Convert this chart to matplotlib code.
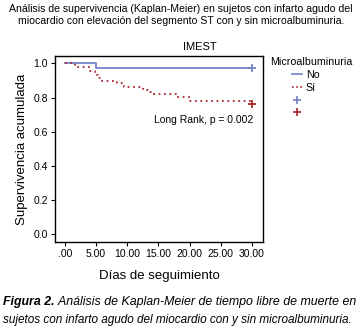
import matplotlib.pyplot as plt
from matplotlib.lines import Line2D
import numpy as np

plt.rcParams['font.family'] = ['Liberation Sans', 'DejaVu Sans']

# Kaplan-Meier steps
no_t = [0, 5.0, 30.0]
no_s = [1.0, 0.975, 0.975]
si_t = [0, 1.6, 4.0, 4.8, 5.3, 5.9, 8.3, 9.5, 12.6, 13.7, 14.1, 18.0, 19.9, 29.9, 30.0]
si_s = [1.0, 0.978, 0.953, 0.930, 0.914, 0.898, 0.885, 0.862, 0.844, 0.832, 0.820, 0.803, 0.781, 0.762, 0.762]
censor_t = [30.0, 30.0]
censor_s = [0.975, 0.762]

xticks = [0, 5, 10, 15, 20, 25, 30]
xtick_labels = ['.00', '5.00', '10.00', '15.00', '20.00', '25.00', '30.00']
yticks = [0.0, 0.2, 0.4, 0.6, 0.8, 1.0]

blue = '#7282c8'
red = '#a8282c'

fig = plt.figure(figsize=(3.62, 3.34), dpi=100)
ax = fig.add_axes([55/362, 1 - 242/334, 208/362, 186/334])

ax.step(no_t, no_s, where='post', color=blue, lw=1.3)
ax.step(si_t, si_s, where='post', color=red, lw=1.3, linestyle=(0, (1, 2)))
ax.plot(censor_t[:1], censor_s[:1], '+', color=blue, ms=6, mew=1.3)
ax.plot(censor_t[1:], censor_s[1:], '+', color=red, ms=6, mew=1.3)

ax.set_xlim(-1.6, 31.8)
ax.set_ylim(-0.045, 1.043)
ax.set_xticks(xticks)
ax.set_xticklabels(xtick_labels)
ax.set_yticks(yticks)
ax.set_yticklabels([f'{v:.1f}' for v in yticks])
ax.tick_params(labelsize=7.5, length=3, width=0.8, direction='out', pad=2)
for s in ax.spines.values():
    s.set_linewidth(1.0)

ax.set_ylabel('Supervivencia acumulada', fontsize=9.5, labelpad=4)
ax.set_xlabel('Días de seguimiento', fontsize=9.5, labelpad=8)
ax.text(30.2, 0.668, 'Long Rank, p = 0.002', fontsize=7.5, ha='right', va='center')

# legend
fig.text(270/362, 1 - 62/334, 'Microalbuminuria', ha='left', va='center', fontsize=7.7)
handles = [Line2D([], [], color=blue, lw=1.2),
           Line2D([], [], color=red, lw=1.2, linestyle=(0, (1, 1.5))),
           Line2D([], [], color=blue, marker='+', ls='none', ms=6, mew=1.2),
           Line2D([], [], color=red, marker='+', ls='none', ms=6, mew=1.2)]
ax.legend(handles, ['No', 'Sí', '', ''],
          loc='upper left', bbox_to_anchor=(292/362, 1 - 70/334),
          bbox_transform=fig.transFigure, frameon=False,
          fontsize=7.7, handlelength=0.9, handletextpad=0.4,
          labelspacing=0.25, borderpad=0, borderaxespad=0)

fig.text(0.5, 1 - 9/334, 'Análisis de supervivencia (Kaplan-Meier) en sujetos con infarto agudo del',
         ha='center', va='center', fontsize=7.6)
fig.text(0.5, 1 - 21/334, 'miocardio con elevación del segmento ST con y sin microalbuminuria.',
         ha='center', va='center', fontsize=7.6)
fig.text(200/362, 1 - 47/334, 'IMEST', ha='center', va='center', fontsize=8)

t1 = fig.text(3/362, 1 - 302/334, 'Figura 2.', ha='left', va='center', fontsize=8.9,
              style='italic', weight='bold')
ax.annotate(' Análisis de Kaplan-Meier de tiempo libre de muerte en',
            xy=(1, 0.5), xycoords=t1, ha='left', va='center',
            fontsize=8.9, style='italic', annotation_clip=False)
fig.text(3/362, 1 - 320/334, 'sujetos con infarto agudo del miocardio con y sin microalbuminuria.',
         ha='left', va='center', fontsize=8.5, style='italic')

fig.savefig('out.png', dpi=100)
